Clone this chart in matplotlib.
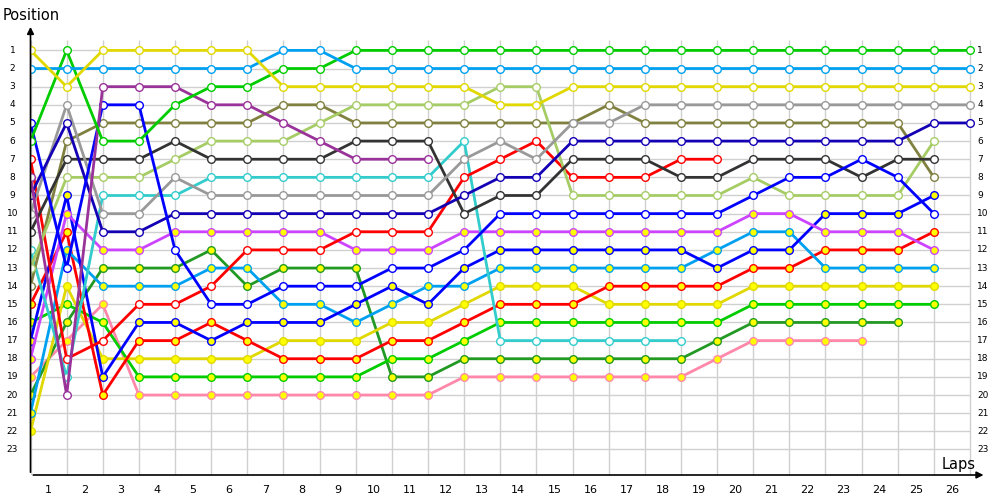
import matplotlib
matplotlib.use('Agg')
import matplotlib.pyplot as plt

# positions per lap, lap 0 = grid
y1 = [1, 3, 1, 1, 1, 1, 1, 3, 3, 3, 3, 3, 3, 4, 4, 3, 3, 3, 3, 3, 3, 3, 3, 3, 3, 3, 3]
lb1 = [2, 2, 2, 2, 2, 2, 2, 1, 1] + [2] * 18
g1 = [6, 1, 6, 6, 4, 3, 3, 2, 2] + [1] * 18
pu = [8, 20, 3, 3, 3, 4, 4, 5, 6, 7, 7, 7]
b1 = [5, 13, 4, 4, 12, 15, 15, 14, 14, 14, 13, 13, 12, 10, 10, 10, 10, 10, 10, 10, 9, 8, 8, 7, 8, 10]
db1 = [9, 5, 11, 11, 10, 10, 10, 10, 10, 10, 10, 10, 9, 8, 8, 6, 6, 6, 6, 6, 6, 6, 6, 6, 6, 5, 5]
gr = [10, 4, 10, 10, 8, 9, 9, 9, 9, 9, 9, 9, 7, 6, 7, 5, 5, 4, 4, 4, 4, 4, 4, 4, 4, 4, 4]
bk = [11, 7, 7, 7, 6, 7, 7, 7, 7, 6, 6, 6, 10, 9, 9, 7, 7, 7, 8, 8, 7, 7, 7, 8, 7, 7]
cy = [12, 19, 9, 9, 9, 8, 8, 8, 8, 8, 8, 8, 6, 17, 17, 17, 17, 17, 17]
lg = [13, 8, 8, 8, 7, 6, 6, 6, 5, 4, 4, 4, 4, 3, 3, 9, 9, 9, 9, 9, 8, 9, 9, 9, 9, 6]
ol = [14, 6, 5, 5, 5, 5, 5, 4, 4, 5, 5, 5, 5, 5, 5, 5, 4, 5, 5, 5, 5, 5, 5, 5, 5, 8]
r1 = [7, 18, 17, 15, 15, 14, 12, 12, 12, 11, 11, 11, 8, 7, 6, 8, 8, 8, 7, 7]
vi = [18, 10, 12, 12, 11, 11, 11, 11, 11, 12, 12, 12, 11, 11, 11, 11, 11, 11, 11, 11, 10, 10, 11, 11, 11, 12]
b2 = [17, 9, 19, 16, 16, 17, 16, 16, 16, 15, 14, 15, 13, 12, 12, 12, 12, 12, 12, 13, 12, 12, 10, 10, 10, 9]
lb2 = [21, 12, 14, 14, 14, 13, 13, 15, 15, 16, 15, 14, 14, 13, 13, 13, 13, 13, 13, 12, 11, 11, 13, 13, 13, 13]
dg = [20, 16, 13, 13, 13, 12, 14, 13, 13, 13, 19, 19, 18, 18, 18, 18, 18, 18, 18, 17, 16, 16, 16, 16, 16]
r2 = [15, 11, 20, 17, 17, 16, 17, 18, 18, 18, 17, 17, 16, 15, 15, 15, 14, 14, 14, 14, 13, 13, 12, 12, 12, 11]
y2 = [22, 14, 18, 18, 18, 18, 18, 17, 17, 17, 16, 16, 15, 14, 14, 14, 15, 15, 15, 15, 14, 14, 14, 14, 14, 14]
g2 = [16, 15, 16, 19, 19, 19, 19, 19, 19, 19, 18, 18, 17, 16, 16, 16, 16, 16, 16, 16, 15, 15, 15, 15, 15, 15]
pk = [19, 17, 15, 20, 20, 20, 20, 20, 20, 20, 20, 20, 19, 19, 19, 19, 19, 19, 19, 18, 17, 17, 17, 17]

n_laps = 26
n_pos = 23

W = 'white'
YF = '#ffff00'
# (data, line colour, marker fill)
series = [
  (pk, '#ff88aa', YF),
  (dg, '#229922', YF),
  (g2, '#00cc00', YF),
  (y2, '#e0d800', YF),
  (r2, '#ff0000', YF),
  (lb2, '#00a0f0', YF),
  (b2, '#0000ff', YF),
  (vi, '#cc44ff', YF),
  (cy, '#33cccc', W),
  (r1, '#ff0000', W),
  (ol, '#808040', W),
  (lg, '#a6cc66', W),
  (bk, '#333333', W),
  (gr, '#999999', W),
  (db1, '#1400b4', W),
  (b1, '#0000ff', W),
  (pu, '#993399', W),
  (g1, '#00cc00', W),
  (lb1, '#00a0f0', W),
  (y1, '#e0d800', W),
]

fig = plt.figure(figsize=(10, 5), dpi=100)
ax = fig.add_axes([0.0305, 0.05, 0.954, 0.9])
ax.set_xlim(0, 26.4)
ax.set_ylim(24.41, -0.4)
ax.axis('off')

# grid
ax.hlines(range(1, n_pos + 1), 0, n_laps, color='#d0d0d0', lw=1, zorder=0)
ax.vlines(range(0, n_laps + 1), 0.45, 24.41, color='#d0d0d0', lw=1, zorder=0)

for data, col, fill in series:
  ax.plot(range(len(data)), data, color=col, lw=2.0, marker='o', ms=5.5,
          mfc=fill, mec=col, mew=1.0, solid_joinstyle='round')

# axes with arrows
ax.annotate('', xy=(26.45, 24.41), xytext=(0, 24.41),
            arrowprops=dict(arrowstyle='-|>', color='black', lw=1.2,
                            mutation_scale=10), annotation_clip=False)
ax.annotate('', xy=(0, -0.45), xytext=(0, 24.41),
            arrowprops=dict(arrowstyle='-|>', color='black', lw=1.2,
                            mutation_scale=10), annotation_clip=False)

for p in range(1, n_pos + 1):
  ax.text(-0.5, p, str(p), ha='center', va='center', fontsize=6.5, clip_on=False)
  ax.text(26.2, p, str(p), ha='left', va='center', fontsize=6.5, clip_on=False)

for lap in range(1, n_laps + 1):
  ax.text(lap - 0.5, 25.25, str(lap), ha='center', va='center', fontsize=8, clip_on=False)

fig.text(0.003, 0.97, 'Position', fontsize=10.5, ha='left', va='center')
fig.text(0.959, 0.07, 'Laps', fontsize=10.5, ha='center', va='center')

fig.savefig('out.png', dpi=100)
